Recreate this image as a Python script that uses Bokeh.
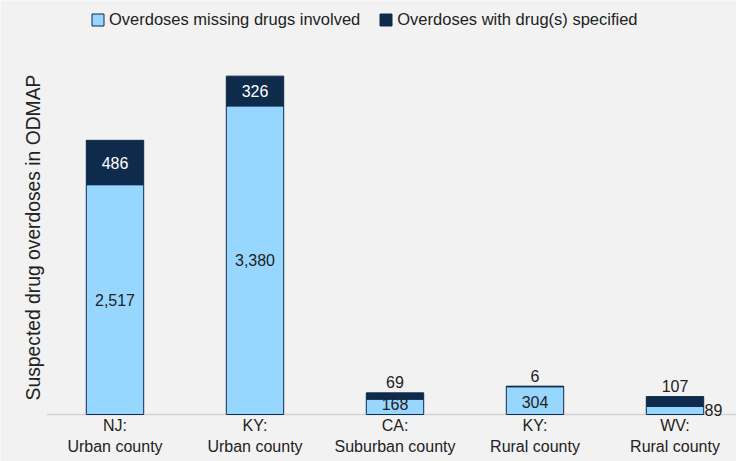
import math
from bokeh.plotting import figure
from bokeh.models import ColumnDataSource, Legend, LegendItem, Label
from bokeh.core.properties import value
from bokeh.embed import file_html
from bokeh.resources import INLINE

states = ["NJ:", "KY:", "CA:", "KY:", "WV:"]
county_types = ["Urban county", "Urban county", "Suburban county", "Rural county", "Rural county"]
missing = [2517, 3380, 168, 304, 89]
specified = [486, 326, 69, 6, 107]

LIGHT = "#97D7FF"
DARK = "#0E2B4B"
BG = "#F2F2F2"
FONT = "Liberation Sans"
TXT = "#222222"

xs = list(range(len(states)))
tops2 = [m + s for m, s in zip(missing, specified)]

PX = 0.0913  # px per unit
X0, XS = 114.5, 140.0  # px of first category, px per category
BASE = 414  # baseline px from top
H = 461
p = figure(width=736, height=H, output_backend="svg", toolbar_location=None,
           x_range=(-X0 / XS, (736 - X0) / XS), y_range=(-(H - BASE) / PX, BASE / PX),
           min_border_left=0, min_border_right=0, min_border_top=0, min_border_bottom=0)
p.background_fill_color = BG
p.border_fill_color = BG
p.outline_line_color = None
p.grid.visible = False
p.xaxis.visible = False
p.yaxis.visible = False

def px_to_y(py):
    return (BASE - py) / PX

# baseline
p.segment(x0=[(46 - X0) / XS], y0=[0], x1=[(736 - X0) / XS], y1=[0], line_color="#D4D4D4", line_width=1.5)

src = ColumnDataSource(dict(x=xs, m=missing, t2=tops2))
r1 = p.vbar(x="x", width=0.41, bottom=0, top="m", source=src, fill_color=LIGHT, line_color=DARK, line_width=1)
r2 = p.vbar(x="x", width=0.41, bottom="m", top="t2", source=src, fill_color=DARK, line_color=DARK, line_width=1)

lab_x, lab_y, lab_t, lab_c = [], [], [], []
for i in range(len(states)):
    m, s = missing[i], specified[i]
    if m > 1000:
        lab_x += [i, i]
        lab_y += [m / 2, m + s / 2]
        lab_t += [f"{m:,}", f"{s:,}"]
        lab_c += [TXT, "#FFFFFF"]
p.text(x=lab_x, y=lab_y, text=lab_t, text_color=lab_c, text_align="center", text_baseline="middle",
       text_font=value(FONT), text_font_size="16px")

small_x = [2, 2, 3, 3, 4, (713 - X0) / XS]
small_y = [tops2[2] + 124, 110, tops2[3] + 108, 142, tops2[4] + 111, 45]
small_t = [f"{specified[2]:,}", f"{missing[2]:,}", f"{specified[3]:,}", f"{missing[3]:,}", f"{specified[4]:,}", f"{missing[4]:,}"]
p.text(x=small_x, y=small_y, text=small_t, text_color=TXT, text_align="center", text_baseline="middle",
       text_font=value(FONT), text_font_size="16px")

# category labels (two lines)
p.text(x=xs, y=[px_to_y(425)] * len(xs), text=states, text_color=TXT, text_align="center",
       text_baseline="middle", text_font=value(FONT), text_font_size="16px")
p.text(x=xs, y=[px_to_y(446)] * len(xs), text=county_types, text_color=TXT, text_align="center",
       text_baseline="middle", text_font=value(FONT), text_font_size="16px")

title = Label(x=(33 - X0) / XS, y=px_to_y(237), x_units="data", y_units="data",
              text="Suspected drug overdoses in ODMAP",
              angle=math.pi / 2, text_align="center", text_baseline="middle",
              text_font=FONT, text_font_size="19.3px", text_color=TXT)
p.add_layout(title)

legend = Legend(items=[LegendItem(label="Overdoses missing drugs involved", renderers=[r1]),
                       LegendItem(label="Overdoses with drug(s) specified", renderers=[r2])],
                orientation="horizontal", location=(90, H - 29))
legend.background_fill_alpha = 0
legend.border_line_color = None
legend.label_text_font = FONT
legend.label_text_font_size = "16.5px"
legend.label_text_color = TXT
legend.glyph_width = 15
legend.glyph_height = 15
legend.spacing = 18
legend.label_standoff = 4
legend.padding = 2
legend.margin = 0
p.add_layout(legend)

open("out.html", "w").write(file_html(p, INLINE))
